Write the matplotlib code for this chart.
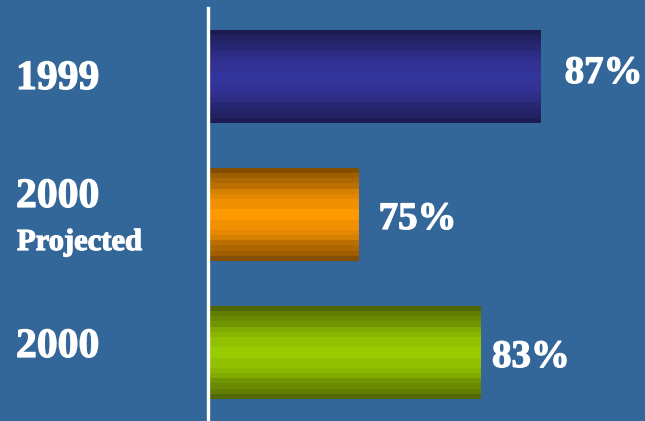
import numpy as np
import matplotlib.pyplot as plt
import matplotlib.patheffects as pe
from matplotlib.colors import LinearSegmentedColormap

years = ['1999', '2000', '2000']
sublabels = ['', 'Projected', '']
values = [87, 75, 83]
labels = ['87%', '75%', '83%']

# dark edge / bright centre for each bar
shades = [('#1b194a', '#34359c'),
          ('#764600', '#ff9900'),
          ('#4a5e00', '#99cc00')]

BG = '#336699'
W, H = 645, 421

# banded vertical gradient: darkest at top/bottom, brightest in the middle
def band_profile(n=18):
    y = (np.arange(n) + 0.5) / n
    t = 1 - np.abs(2 * y - 1) ** 1.6
    return np.round(t * 10) / 10

if __name__ == '__main__':
    plt.rcParams['font.family'] = ['Liberation Serif', 'DejaVu Serif']
    fig = plt.figure(figsize=(W / 100, H / 100), dpi=100, facecolor=BG)
    ax = fig.add_axes([210 / W, 0, 1 - 210 / W, 1])
    ax.set_facecolor(BG)
    ax.axis('off')

    pos = np.arange(len(values))
    bars = ax.barh(pos, np.array(values) - 65.2, left=65.2, height=0.667,
                   color='none', edgecolor='none')

    prof = band_profile()[:, None]
    for b, (dark, bright) in zip(bars, shades):
        cm = LinearSegmentedColormap.from_list('bar', [dark, bright])
        x0, y0 = b.get_x(), b.get_y()
        ax.imshow(prof, cmap=cm, vmin=0, vmax=1, aspect='auto',
                  extent=(x0, x0 + b.get_width(), y0 + b.get_height(), y0),
                  interpolation='nearest', zorder=2)
    ax.set_xlim(65.2, 65.2 + (W - 210) / 15.17)
    ax.set_ylim(2 + (H - 353) / 138, -77 / 138)

    # white baseline to the left of the bars
    fig.add_artist(plt.Line2D([207.5 / W] * 2, [0, 1 - 8 / H],
                              color='white', lw=2.4))

    heavy = [pe.withStroke(linewidth=0.9, foreground='white')]

    # category labels on the left
    year_dy = [-12, 8, -4]
    for i, (yr, sub) in enumerate(zip(years, sublabels)):
        ax.annotate(yr, xy=(16, i), xycoords=('figure pixels', 'data'),
                    xytext=(0, year_dy[i]), textcoords='offset pixels',
                    ha='left', va='baseline', color='white',
                    fontsize=30, fontweight='bold', path_effects=heavy)
        if sub:
            ax.annotate(sub, xy=(16, i), xycoords=('figure pixels', 'data'),
                        xytext=(1, -35), textcoords='offset pixels',
                        ha='left', va='baseline', color='white',
                        fontsize=22, fontweight='bold', path_effects=heavy)

    # value labels after each bar
    lab_dx = [24, 20, 12]
    lab_dy = [-6, -14, -14]
    for i, (v, s) in enumerate(zip(values, labels)):
        ax.annotate(s, xy=(v, i), xytext=(lab_dx[i], lab_dy[i]),
                    textcoords='offset pixels', ha='left', va='baseline',
                    color='white', fontsize=28, fontweight='bold',
                    path_effects=heavy)

    fig.savefig('out.png', facecolor=BG)
